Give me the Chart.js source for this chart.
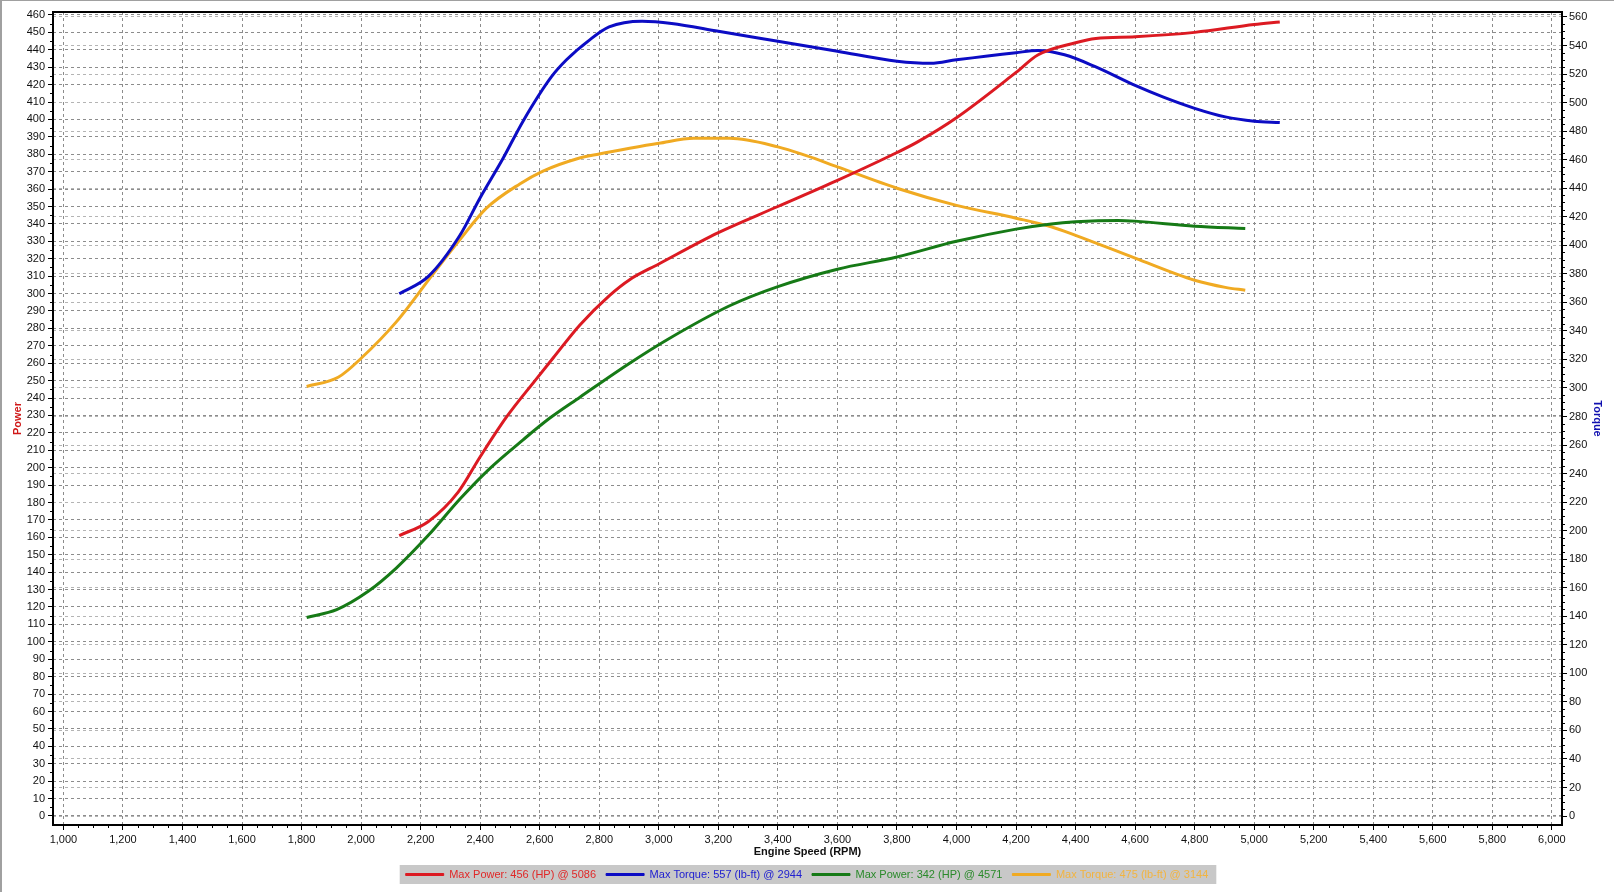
<!DOCTYPE html>
<html>
<head>
<meta charset="utf-8">
<script src="https://cdn.jsdelivr.net/npm/chart.js@4.4.1/dist/chart.umd.min.js"></script>
<style>
  html, body { margin: 0; padding: 0; background: #fff; }
  #wrap { position: relative; width: 1614px; height: 892px; }
</style>
</head>
<body>
<div id="wrap"><canvas id="dyno"></canvas></div>
<script>
// Dyno runs (rpm / HP / lb-ft)
const rpmRedPower = [2128, 2225, 2326, 2399, 2488, 2589, 2645, 2735, 2835, 2902, 3000, 3200, 3400, 3600, 3800, 3868, 4000, 4200, 4273, 4400, 4468, 4600, 4800, 5000, 5086];
const redPower = [161, 169, 186, 206, 229, 251, 263, 282, 299, 308, 317, 335, 350, 365, 381, 387, 401, 427, 437, 444, 446.5, 447.5, 450, 454.5, 456];

const rpmBlueTorque = [2128, 2225, 2332, 2399, 2477, 2544, 2639, 2690, 2768, 2833, 2944, 3043, 3200, 3400, 3600, 3800, 3913, 4000, 4200, 4273, 4363, 4468, 4600, 4693, 4800, 4903, 5000, 5086];
const blueTorque = [366, 378, 407, 433, 461, 487, 518, 530, 544, 553, 557, 555.5, 550, 543, 536, 529, 527.5, 530, 535, 536.5, 533.5, 525, 512, 504, 496, 490, 487, 486];

const rpmGreenPower = [1817, 1918, 2024, 2119, 2225, 2332, 2432, 2544, 2634, 2735, 2902, 3028, 3238, 3400, 3600, 3800, 4000, 4200, 4318, 4400, 4543, 4600, 4800, 4970];
const greenPower = [114, 118.5, 129, 142.5, 161, 182, 199.5, 216, 228.5, 240.5, 260, 273.5, 293, 304, 314, 321, 330, 337, 340, 341.2, 342, 341.6, 338.7, 337.4];

const rpmOrangeTorque = [1817, 1923, 2001, 2119, 2242, 2332, 2421, 2533, 2611, 2723, 2800, 2902, 3000, 3118, 3238, 3400, 3493, 3600, 3800, 4000, 4200, 4318, 4400, 4600, 4800, 4903, 4970];
const orangeTorque = [301, 307.5, 321, 346.5, 380, 404, 426, 443, 452, 460.5, 464, 468, 471.5, 475, 475, 469, 463, 455, 440, 428, 419, 413, 407, 391, 375.5, 370.5, 368.5];

const seriesLabels = [
    'Max Power: 456 (HP) @ 5086',
    'Max Torque: 557 (lb-ft) @ 2944',
    'Max Power: 342 (HP) @ 4571',
    'Max Torque: 475 (lb-ft) @ 3144'
];
const lineColors = ['#dc1a22', '#0c0cc4', '#167a16', '#f0aa22'];
const legendTextColors = ['#e02828', '#2020d0', '#2a8a2a', '#f2b440'];

// axis ticks
const rpmTicks = [];
for (let r = 1000; r <= 6000; r += 200) rpmTicks.push(r);
const powerTicks = [];
for (let p = 0; p <= 460; p += 10) powerTicks.push(p);
const torqueTicks = [];
for (let t = 0; t <= 560; t += 20) torqueTicks.push(t);

const FONT = "'Liberation Sans', Arial, sans-serif";

function toPoints(xs, ys) {
    return xs.map((x, i) => ({ x: x, y: ys[i] }));
}

// white page + thin grey frame on the top/left edge
const pageBg = {
    id: 'pageBg',
    beforeDraw(chart) {
        const ctx = chart.ctx;
        ctx.save();
        ctx.fillStyle = '#fff';
        ctx.fillRect(0, 0, chart.width, chart.height);
        ctx.fillStyle = '#a0a0a0';
        ctx.fillRect(0, 0, chart.width, 1);
        ctx.fillRect(0, 0, 2, chart.height);

        // grey strip behind the legend
        const boxes = chart.legend && chart.legend.legendHitBoxes;
        if (boxes && boxes.length) {
            const first = boxes[0], last = boxes[boxes.length - 1];
            const x0 = first.left - 6;
            const x1 = last.left + last.width + 8;
            const y0 = first.top - 4;
            ctx.fillStyle = '#c8c8c8';
            ctx.fillRect(x0, y0, x1 - x0, first.height + 8);
        }
        ctx.restore();
    }
};

// black plot frame + minor ticks
const plotFrame = {
    id: 'plotFrame',
    afterDraw(chart) {
        const ctx = chart.ctx;
        const a = chart.chartArea;
        const sx = chart.scales.x, yl = chart.scales.yPower, yr = chart.scales.yTorque;
        ctx.save();
        ctx.strokeStyle = '#000';
        ctx.lineWidth = 1;
        ctx.beginPath();
        for (let r = 1000; r <= 6000; r += 50) {
            if (r % 200 === 0) continue;
            const px = Math.round(sx.getPixelForValue(r)) + 0.5;
            ctx.moveTo(px, a.bottom);
            ctx.lineTo(px, a.bottom + 3);
        }
        for (let p = 0; p <= 460; p += 5) {
            if (p % 10 === 0) continue;
            const py = Math.round(yl.getPixelForValue(p)) + 0.5;
            ctx.moveTo(a.left - 3, py);
            ctx.lineTo(a.left, py);
        }
        for (let t = 0; t <= 560; t += 5) {
            if (t % 20 === 0) continue;
            const py = Math.round(yr.getPixelForValue(t)) + 0.5;
            ctx.moveTo(a.right, py);
            ctx.lineTo(a.right + 3, py);
        }
        ctx.stroke();
        ctx.lineWidth = 2;
        ctx.strokeRect(a.left, a.top, a.right - a.left, a.bottom - a.top);
        ctx.restore();
    }
};

const datasets = [
    { data: toPoints(rpmRedPower, redPower), yAxisID: 'yPower' },
    { data: toPoints(rpmBlueTorque, blueTorque), yAxisID: 'yTorque' },
    { data: toPoints(rpmGreenPower, greenPower), yAxisID: 'yPower' },
    { data: toPoints(rpmOrangeTorque, orangeTorque), yAxisID: 'yTorque' }
].map((d, i) => Object.assign(d, {
    label: seriesLabels[i],
    borderColor: lineColors[i],
    backgroundColor: lineColors[i],
    borderWidth: 3,
    pointRadius: 0,
    cubicInterpolationMode: 'monotone',
    fill: false
}));

const gridBase = {
    color: '#8c8c8c',
    lineWidth: 1,
    tickLength: 5,
    tickColor: '#000',
    tickWidth: 1,
    tickBorderDash: []
};

new Chart(document.getElementById('dyno'), {
    type: 'line',
    data: { datasets: datasets },
    plugins: [pageBg, plotFrame],
    options: {
        responsive: true,
        maintainAspectRatio: false,
        animation: false,
        layout: { padding: { top: 12, left: 0, right: 0, bottom: 2 } },
        plugins: {
            tooltip: { enabled: false },
            legend: {
                position: 'bottom',
                labels: {
                    boxWidth: 38,
                    boxHeight: 2,
                    padding: 10,
                    font: { family: FONT, size: 11 },
                    generateLabels: (chart) => chart.data.datasets.map((ds, i) => ({
                        text: ds.label,
                        fillStyle: ds.borderColor,
                        strokeStyle: ds.borderColor,
                        lineWidth: 1,
                        fontColor: legendTextColors[i],
                        hidden: false,
                        datasetIndex: i
                    }))
                }
            }
        },
        scales: {
            x: {
                type: 'linear',
                min: 965,
                max: 6034,
                afterBuildTicks: (s) => { s.ticks = rpmTicks.map(v => ({ value: v })); },
                afterFit: (s) => { s.height = 34; },
                grid: Object.assign({}, gridBase),
                border: { display: false, dash: [3, 3] },
                ticks: {
                    autoSkip: false,
                    maxRotation: 0,
                    padding: 3,
                    color: '#111',
                    font: { family: FONT, size: 11 },
                    callback: (v) => Number(v).toLocaleString('en-US')
                },
                title: {
                    display: true,
                    text: 'Engine Speed (RPM)',
                    color: '#111',
                    font: { family: FONT, size: 11, weight: 'bold' },
                    padding: { top: 0, bottom: 0 }
                }
            },
            yPower: {
                position: 'left',
                min: -5.2,
                max: 461.7,
                afterBuildTicks: (s) => { s.ticks = powerTicks.map(v => ({ value: v })); },
                afterFit: (s) => { s.width = 53; },
                grid: Object.assign({}, gridBase),
                border: { display: false, dash: [3, 3] },
                ticks: {
                    autoSkip: false,
                    padding: 3,
                    color: '#111',
                    font: { family: FONT, size: 11 }
                },
                title: {
                    display: true,
                    text: 'Power',
                    color: '#d01818',
                    font: { family: FONT, size: 11, weight: 'bold' },
                    padding: { top: 11, bottom: 0 }
                }
            },
            yTorque: {
                position: 'right',
                min: -6.3,
                max: 563.5,
                afterBuildTicks: (s) => { s.ticks = torqueTicks.map(v => ({ value: v })); },
                afterFit: (s) => { s.width = 52; },
                grid: Object.assign({}, gridBase, { color: '#b4b4b4' }),
                border: { display: false, dash: [3, 3] },
                ticks: {
                    autoSkip: false,
                    padding: 2,
                    color: '#111',
                    font: { family: FONT, size: 11 }
                },
                title: {
                    display: true,
                    text: 'Torque',
                    color: '#1010b0',
                    font: { family: FONT, size: 11, weight: 'bold' },
                    padding: { top: 10, bottom: 0 }
                }
            }
        }
    }
});
</script>
</body>
</html>
